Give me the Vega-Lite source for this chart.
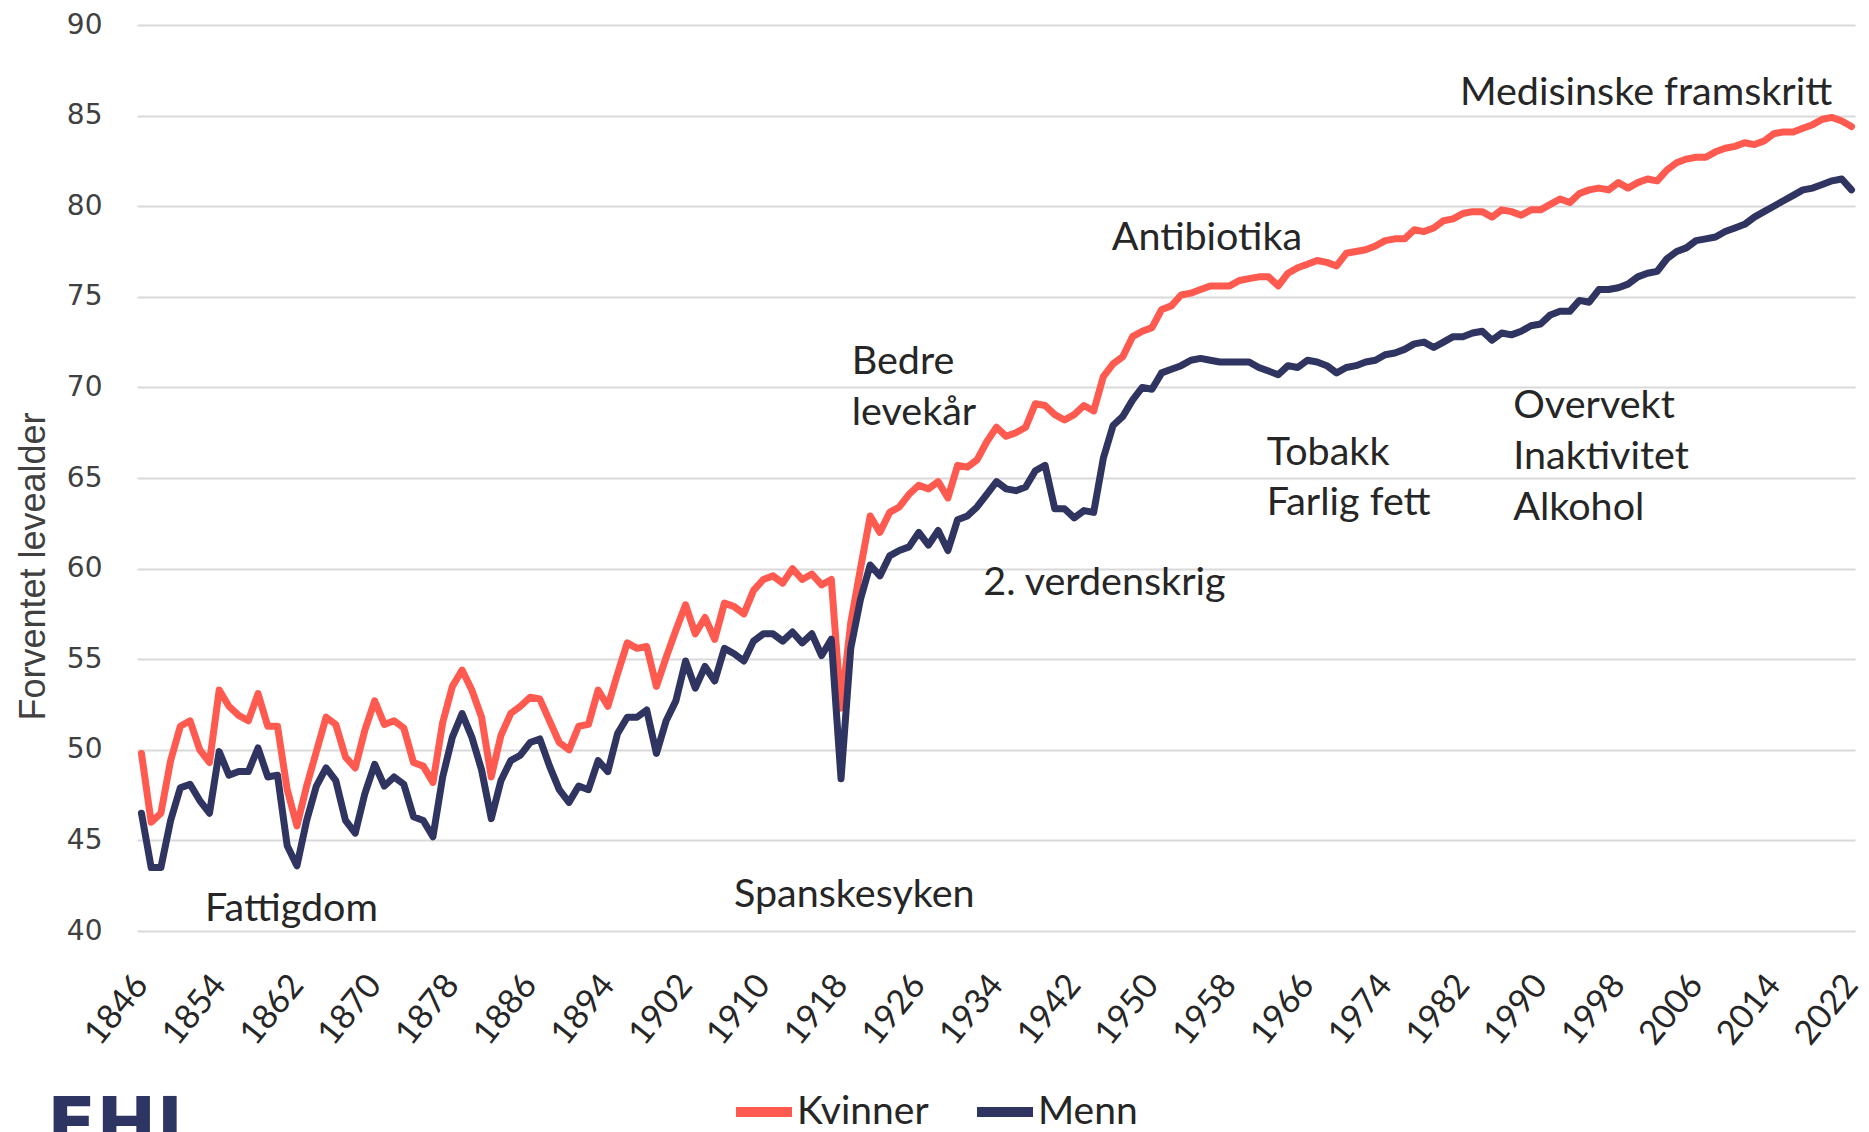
{
  "$schema": "https://vega.github.io/schema/vega-lite/v6.json",
  "width": 1718,
  "height": 906,
  "autosize": {"type": "none"},
  "padding": {"left": 137, "top": 25, "right": 14, "bottom": 201},
  "background": "white",
  "title": {"text": "FHI", "orient": "bottom", "anchor": "start", "font": "DejaVu Sans", "fontSize": 72, "fontWeight": "bold", "color": "#2E3563", "dx": 32, "dy": -41, "offset": 0},
  "config": {"view": {"stroke": null}},
  "datasets": {
    "life": [
      {"year":1846,"Kvinner":49.8,"Menn":46.5},{"year":1847,"Kvinner":46.0,"Menn":43.5},{"year":1848,"Kvinner":46.5,"Menn":43.5},{"year":1849,"Kvinner":49.4,"Menn":46.1},{"year":1850,"Kvinner":51.3,"Menn":47.9},
      {"year":1851,"Kvinner":51.6,"Menn":48.1},{"year":1852,"Kvinner":50.0,"Menn":47.2},{"year":1853,"Kvinner":49.3,"Menn":46.5},{"year":1854,"Kvinner":53.3,"Menn":49.9},{"year":1855,"Kvinner":52.4,"Menn":48.6},
      {"year":1856,"Kvinner":51.9,"Menn":48.8},{"year":1857,"Kvinner":51.6,"Menn":48.8},{"year":1858,"Kvinner":53.1,"Menn":50.1},{"year":1859,"Kvinner":51.3,"Menn":48.5},{"year":1860,"Kvinner":51.3,"Menn":48.6},
      {"year":1861,"Kvinner":47.8,"Menn":44.7},{"year":1862,"Kvinner":45.8,"Menn":43.6},{"year":1863,"Kvinner":48.0,"Menn":46.1},{"year":1864,"Kvinner":49.9,"Menn":48.0},{"year":1865,"Kvinner":51.8,"Menn":49.0},
      {"year":1866,"Kvinner":51.4,"Menn":48.3},{"year":1867,"Kvinner":49.6,"Menn":46.1},{"year":1868,"Kvinner":49.0,"Menn":45.4},{"year":1869,"Kvinner":51.1,"Menn":47.6},{"year":1870,"Kvinner":52.7,"Menn":49.2},
      {"year":1871,"Kvinner":51.4,"Menn":48.0},{"year":1872,"Kvinner":51.6,"Menn":48.5},{"year":1873,"Kvinner":51.2,"Menn":48.1},{"year":1874,"Kvinner":49.3,"Menn":46.3},{"year":1875,"Kvinner":49.1,"Menn":46.1},
      {"year":1876,"Kvinner":48.2,"Menn":45.2},{"year":1877,"Kvinner":51.5,"Menn":48.5},{"year":1878,"Kvinner":53.5,"Menn":50.7},{"year":1879,"Kvinner":54.4,"Menn":52.0},{"year":1880,"Kvinner":53.3,"Menn":50.7},
      {"year":1881,"Kvinner":51.8,"Menn":48.9},{"year":1882,"Kvinner":48.5,"Menn":46.2},{"year":1883,"Kvinner":50.8,"Menn":48.3},{"year":1884,"Kvinner":52.0,"Menn":49.4},{"year":1885,"Kvinner":52.4,"Menn":49.7},
      {"year":1886,"Kvinner":52.9,"Menn":50.4},{"year":1887,"Kvinner":52.8,"Menn":50.6},{"year":1888,"Kvinner":51.6,"Menn":49.1},{"year":1889,"Kvinner":50.4,"Menn":47.8},{"year":1890,"Kvinner":50.0,"Menn":47.1},
      {"year":1891,"Kvinner":51.3,"Menn":48.0},{"year":1892,"Kvinner":51.4,"Menn":47.8},{"year":1893,"Kvinner":53.3,"Menn":49.4},{"year":1894,"Kvinner":52.4,"Menn":48.8},{"year":1895,"Kvinner":54.2,"Menn":50.9},
      {"year":1896,"Kvinner":55.9,"Menn":51.8},{"year":1897,"Kvinner":55.6,"Menn":51.8},{"year":1898,"Kvinner":55.7,"Menn":52.2},{"year":1899,"Kvinner":53.5,"Menn":49.8},{"year":1900,"Kvinner":55.1,"Menn":51.6},
      {"year":1901,"Kvinner":56.6,"Menn":52.7},{"year":1902,"Kvinner":58.0,"Menn":54.9},{"year":1903,"Kvinner":56.4,"Menn":53.4},{"year":1904,"Kvinner":57.3,"Menn":54.6},{"year":1905,"Kvinner":56.1,"Menn":53.8},
      {"year":1906,"Kvinner":58.1,"Menn":55.6},{"year":1907,"Kvinner":57.9,"Menn":55.3},{"year":1908,"Kvinner":57.5,"Menn":54.9},{"year":1909,"Kvinner":58.8,"Menn":56.0},{"year":1910,"Kvinner":59.4,"Menn":56.4},
      {"year":1911,"Kvinner":59.6,"Menn":56.4},{"year":1912,"Kvinner":59.2,"Menn":56.0},{"year":1913,"Kvinner":60.0,"Menn":56.5},{"year":1914,"Kvinner":59.4,"Menn":55.9},{"year":1915,"Kvinner":59.7,"Menn":56.4},
      {"year":1916,"Kvinner":59.1,"Menn":55.2},{"year":1917,"Kvinner":59.4,"Menn":56.1},{"year":1918,"Kvinner":52.3,"Menn":48.4},{"year":1919,"Kvinner":57.0,"Menn":55.6},{"year":1920,"Kvinner":60.0,"Menn":58.3},
      {"year":1921,"Kvinner":62.9,"Menn":60.2},{"year":1922,"Kvinner":62.0,"Menn":59.6},{"year":1923,"Kvinner":63.1,"Menn":60.7},{"year":1924,"Kvinner":63.4,"Menn":61.0},{"year":1925,"Kvinner":64.1,"Menn":61.2},
      {"year":1926,"Kvinner":64.6,"Menn":62.0},{"year":1927,"Kvinner":64.4,"Menn":61.3},{"year":1928,"Kvinner":64.8,"Menn":62.1},{"year":1929,"Kvinner":63.9,"Menn":61.0},{"year":1930,"Kvinner":65.7,"Menn":62.7},
      {"year":1931,"Kvinner":65.6,"Menn":62.9},{"year":1932,"Kvinner":66.0,"Menn":63.4},{"year":1933,"Kvinner":67.0,"Menn":64.1},{"year":1934,"Kvinner":67.8,"Menn":64.8},{"year":1935,"Kvinner":67.3,"Menn":64.4},
      {"year":1936,"Kvinner":67.5,"Menn":64.3},{"year":1937,"Kvinner":67.8,"Menn":64.5},{"year":1938,"Kvinner":69.1,"Menn":65.4},{"year":1939,"Kvinner":69.0,"Menn":65.7},{"year":1940,"Kvinner":68.5,"Menn":63.3},
      {"year":1941,"Kvinner":68.2,"Menn":63.3},{"year":1942,"Kvinner":68.5,"Menn":62.8},{"year":1943,"Kvinner":69.0,"Menn":63.2},{"year":1944,"Kvinner":68.7,"Menn":63.1},{"year":1945,"Kvinner":70.6,"Menn":66.1},
      {"year":1946,"Kvinner":71.3,"Menn":67.9},{"year":1947,"Kvinner":71.7,"Menn":68.4},{"year":1948,"Kvinner":72.8,"Menn":69.3},{"year":1949,"Kvinner":73.1,"Menn":70.0},{"year":1950,"Kvinner":73.3,"Menn":69.9},
      {"year":1951,"Kvinner":74.3,"Menn":70.8},{"year":1952,"Kvinner":74.5,"Menn":71.0},{"year":1953,"Kvinner":75.1,"Menn":71.2},{"year":1954,"Kvinner":75.2,"Menn":71.5},{"year":1955,"Kvinner":75.4,"Menn":71.6},
      {"year":1956,"Kvinner":75.6,"Menn":71.5},{"year":1957,"Kvinner":75.6,"Menn":71.4},{"year":1958,"Kvinner":75.6,"Menn":71.4},{"year":1959,"Kvinner":75.9,"Menn":71.4},{"year":1960,"Kvinner":76.0,"Menn":71.4},
      {"year":1961,"Kvinner":76.1,"Menn":71.1},{"year":1962,"Kvinner":76.1,"Menn":70.9},{"year":1963,"Kvinner":75.6,"Menn":70.7},{"year":1964,"Kvinner":76.3,"Menn":71.2},{"year":1965,"Kvinner":76.6,"Menn":71.1},
      {"year":1966,"Kvinner":76.8,"Menn":71.5},{"year":1967,"Kvinner":77.0,"Menn":71.4},{"year":1968,"Kvinner":76.9,"Menn":71.2},{"year":1969,"Kvinner":76.7,"Menn":70.8},{"year":1970,"Kvinner":77.4,"Menn":71.1},
      {"year":1971,"Kvinner":77.5,"Menn":71.2},{"year":1972,"Kvinner":77.6,"Menn":71.4},{"year":1973,"Kvinner":77.8,"Menn":71.5},{"year":1974,"Kvinner":78.1,"Menn":71.8},{"year":1975,"Kvinner":78.2,"Menn":71.9},
      {"year":1976,"Kvinner":78.2,"Menn":72.1},{"year":1977,"Kvinner":78.7,"Menn":72.4},{"year":1978,"Kvinner":78.6,"Menn":72.5},{"year":1979,"Kvinner":78.8,"Menn":72.2},{"year":1980,"Kvinner":79.2,"Menn":72.5},
      {"year":1981,"Kvinner":79.3,"Menn":72.8},{"year":1982,"Kvinner":79.6,"Menn":72.8},{"year":1983,"Kvinner":79.7,"Menn":73.0},{"year":1984,"Kvinner":79.7,"Menn":73.1},{"year":1985,"Kvinner":79.4,"Menn":72.6},
      {"year":1986,"Kvinner":79.8,"Menn":73.0},{"year":1987,"Kvinner":79.7,"Menn":72.9},{"year":1988,"Kvinner":79.5,"Menn":73.1},{"year":1989,"Kvinner":79.8,"Menn":73.4},{"year":1990,"Kvinner":79.8,"Menn":73.5},
      {"year":1991,"Kvinner":80.1,"Menn":74.0},{"year":1992,"Kvinner":80.4,"Menn":74.2},{"year":1993,"Kvinner":80.2,"Menn":74.2},{"year":1994,"Kvinner":80.7,"Menn":74.8},{"year":1995,"Kvinner":80.9,"Menn":74.7},
      {"year":1996,"Kvinner":81.0,"Menn":75.4},{"year":1997,"Kvinner":80.9,"Menn":75.4},{"year":1998,"Kvinner":81.3,"Menn":75.5},{"year":1999,"Kvinner":81.0,"Menn":75.7},{"year":2000,"Kvinner":81.3,"Menn":76.1},
      {"year":2001,"Kvinner":81.5,"Menn":76.3},{"year":2002,"Kvinner":81.4,"Menn":76.4},{"year":2003,"Kvinner":82.0,"Menn":77.1},{"year":2004,"Kvinner":82.4,"Menn":77.5},{"year":2005,"Kvinner":82.6,"Menn":77.7},
      {"year":2006,"Kvinner":82.7,"Menn":78.1},{"year":2007,"Kvinner":82.7,"Menn":78.2},{"year":2008,"Kvinner":83.0,"Menn":78.3},{"year":2009,"Kvinner":83.2,"Menn":78.6},{"year":2010,"Kvinner":83.3,"Menn":78.8},
      {"year":2011,"Kvinner":83.5,"Menn":79.0},{"year":2012,"Kvinner":83.4,"Menn":79.4},{"year":2013,"Kvinner":83.6,"Menn":79.7},{"year":2014,"Kvinner":84.0,"Menn":80.0},{"year":2015,"Kvinner":84.1,"Menn":80.3},
      {"year":2016,"Kvinner":84.1,"Menn":80.6},{"year":2017,"Kvinner":84.3,"Menn":80.9},{"year":2018,"Kvinner":84.5,"Menn":81.0},{"year":2019,"Kvinner":84.8,"Menn":81.2},{"year":2020,"Kvinner":84.9,"Menn":81.4},
      {"year":2021,"Kvinner":84.7,"Menn":81.5},{"year":2022,"Kvinner":84.4,"Menn":80.9}
    ],
    "notes": [
      {"year":1981.7,"value":85.58,"label":"Medisinske framskritt"},
      {"year":1945.86,"value":77.58,"label":"Antibiotika"},
      {"year":1919.1,"value":70.74,"label":"Bedre"},
      {"year":1919.1,"value":67.93,"label":"levekår"},
      {"year":1932.64,"value":58.54,"label":"2. verdenskrig"},
      {"year":1961.81,"value":65.72,"label":"Tobakk"},
      {"year":1961.81,"value":62.96,"label":"Farlig fett"},
      {"year":1987.19,"value":68.29,"label":"Overvekt"},
      {"year":1987.19,"value":65.48,"label":"Inaktivitet"},
      {"year":1987.19,"value":62.68,"label":"Alkohol"},
      {"year":1906.98,"value":41.32,"label":"Spanskesyken"},
      {"year":1852.54,"value":40.55,"label":"Fattigdom"}
    ]
  },
  "layer": [
    {
      "data": {"name": "life"},
      "transform": [{"fold": ["Kvinner", "Menn"], "as": ["kjonn", "levealder"]}],
      "mark": {"type": "line", "strokeWidth": 7, "strokeJoin": "round", "strokeCap": "round"},
      "encoding": {
        "x": {"field": "year", "type": "quantitative",
          "scale": {"domain": [1845.54, 2022.36], "nice": false, "zero": false},
          "axis": {"values": [1846,1854,1862,1870,1878,1886,1894,1902,1910,1918,1926,1934,1942,1950,1958,1966,1974,1982,1990,1998,2006,2014,2022],
            "format": "d", "grid": false, "domain": false, "ticks": false, "labelAngle": -51, "labelAlign": "right", "labelBaseline": "middle",
            "labelPadding": 48, "labelFont": "Lato", "labelFontSize": 34, "labelColor": "#262626", "labelOverlap": false, "labelFlush": false, "title": null}},
        "y": {"field": "levealder", "type": "quantitative",
          "scale": {"domain": [40, 90], "nice": false, "zero": false},
          "axis": {"values": [40,45,50,55,60,65,70,75,80,85,90], "grid": true, "gridColor": "#D9D9D9", "gridWidth": 2,
            "domain": false, "ticks": false, "labelFont": "DejaVu Sans", "labelFontSize": 28, "labelColor": "#404040", "labelPadding": 35,
            "title": "Forventet levealder", "titleFont": "Liberation Sans", "titleFontSize": 36, "titleFontWeight": "normal", "titleColor": "#404040",
            "titleAngle": -90, "titleAlign": "center", "titleBaseline": "middle", "titleX": -104, "titleY": 541}},
        "color": {"field": "kjonn", "type": "nominal",
          "scale": {"domain": ["Kvinner", "Menn"], "range": ["#FF5A4F", "#2F3460"]},
          "legend": {"title": null, "orient": "none", "direction": "horizontal", "legendX": 594, "legendY": 1054,
            "symbolType": "stroke", "symbolSize": 3136, "symbolStrokeWidth": 10, "labelFont": "Lato", "labelFontSize": 39,
            "labelColor": "#262626", "labelOffset": 0, "columnPadding": 28, "labelLimit": 400}}
      }
    },
    {
      "data": {"name": "notes"},
      "mark": {"type": "text", "align": "left", "baseline": "alphabetic", "font": "Lato", "fontSize": 39.5, "color": "#262626"},
      "encoding": {
        "x": {"field": "year", "type": "quantitative"},
        "y": {"field": "value", "type": "quantitative"},
        "text": {"field": "label"}
      }
    }
  ]
}
